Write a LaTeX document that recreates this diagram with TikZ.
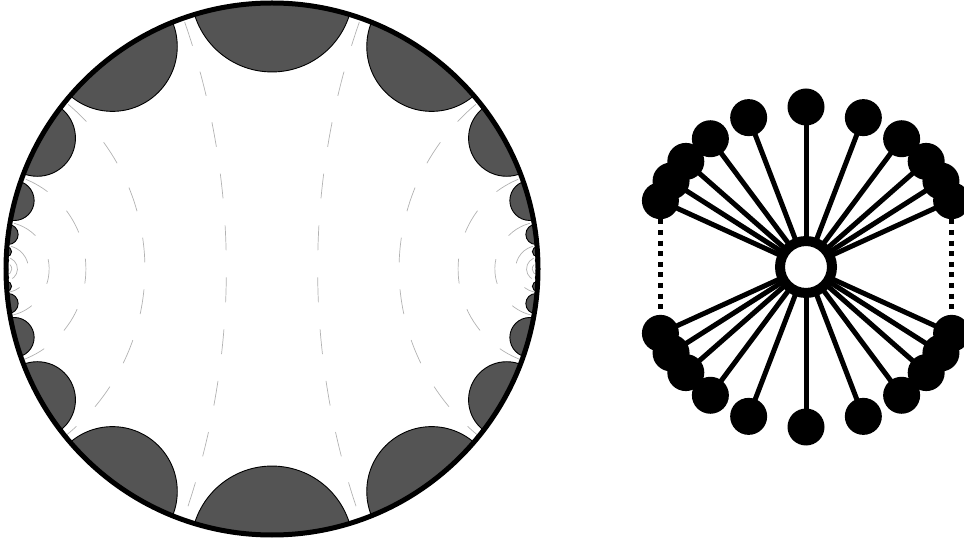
\documentclass[tikz,border=0pt]{standalone}
\usetikzlibrary{calc,backgrounds}
\tikzset{
  horo/.style={fill=black!67,draw=black,line width=0.9pt},
  geo/.style={draw=black!30,line width=0.7pt,dash pattern=on 25pt off 27pt,dash phase=48pt},
  rim/.style={draw=black,line width=5pt},
  leaf/.style={circle,fill=black,inner sep=0pt,minimum size=37pt},
  hub/.style={circle,draw=black,fill=white,line width=10pt,inner sep=0pt,minimum size=52pt},
  spoke/.style={line width=5pt},
  more/.style={line width=4.7pt,dash pattern=on 5pt off 5.6pt}
}
\newcommand{\R}{266}

\begin{document}
\begin{tikzpicture}[x=1pt,y=1pt]
  \useasboundingbox (0,0) rectangle (964,544);
  \coordinate (O) at (272,275);
  \begin{scope}
    \clip (O) circle[radius=\R];
    \foreach \k in {0,...,7}{
      \pgfmathsetmacro\hw{2*atan(pow(2,-\k)/sqrt(2))}
      \pgfmathsetmacro\rr{\R*tan(\hw)}
      \pgfmathsetmacro\sa{90-\hw}
      \pgfmathsetmacro\sb{90+\hw}
      \draw[geo] ($(O)+(180-\hw:\R)$) arc[start angle=\sa, end angle=-\sa, radius=\rr];
      \draw[geo] ($(O)+(\hw:\R)$) arc[start angle=\sb, end angle=360-\sb, radius=\rr];
    }
    \foreach \k in {-7,...,7}{
      \pgfmathsetmacro\ta{2*atan(0.7407*pow(2,\k))}
      \pgfmathsetmacro\tb{2*atan(1.35*pow(2,\k))}
      \pgfmathsetmacro\ma{(\ta+\tb)/2}
      \pgfmathsetmacro\hw{(\tb-\ta)/2}
      \pgfmathsetmacro\dd{\R/cos(\hw)}
      \pgfmathsetmacro\rr{\R*tan(\hw)}
      \filldraw[horo] ($(O)+(\ma:\dd)$) circle[radius=\rr];
      \filldraw[horo] ($(O)+(-\ma:\dd)$) circle[radius=\rr];
    }
  \end{scope}
  \draw[rim] (O) circle[radius=\R];

  \node[hub] (hub) at (806,277) {};
  \foreach \a [count=\i] in {24.5,32.5,41.3,53.3,69,90,111,126.7,138.7,147.5,155.5}{
    \node[leaf] (u\i) at ($(hub)+(\a:160)$) {};
    \node[leaf] (d\i) at ($(hub)+(-\a:160)$) {};
  }
  \begin{scope}[on background layer]
    \foreach \i in {1,...,11}
      \draw[spoke] (hub.center) -- (u\i.center) (hub.center) -- (d\i.center);
  \end{scope}
  \draw[more] (u11) -- (d11);
  \draw[more] (u1) -- (d1);
\end{tikzpicture}
\end{document}
